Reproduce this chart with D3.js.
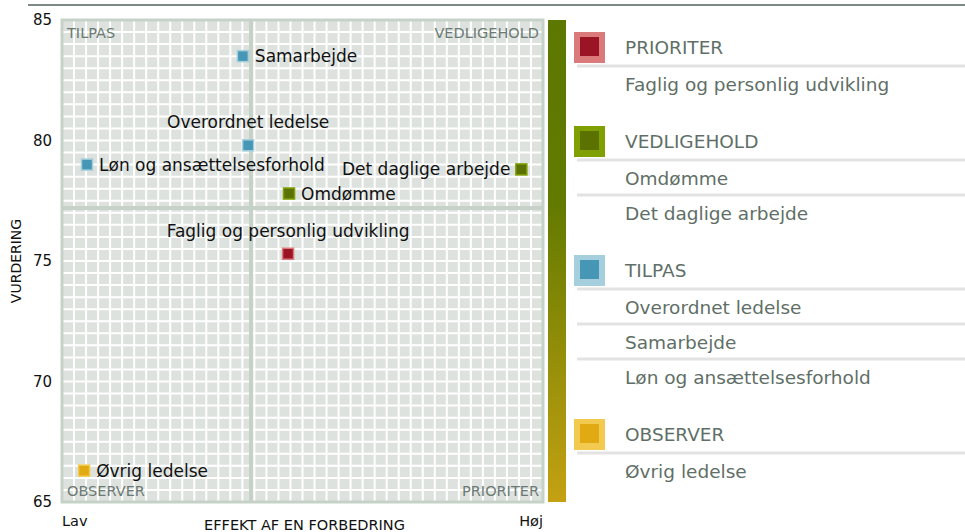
<!DOCTYPE html>
<html>
<head>
<meta charset="utf-8">
<script src="https://cdn.jsdelivr.net/npm/d3@7"></script>
<style>
  body { margin: 0; background: #fff; }
  svg { display: block; font-family: "DejaVu Sans", Verdana, sans-serif; }
</style>
</head>
<body>
<svg width="965" height="532"></svg>
<script>
// data
var items = ["Samarbejde", "Overordnet ledelse", "Løn og ansættelsesforhold", "Det daglige arbejde", "Omdømme", "Faglig og personlig udvikling", "Øvrig ledelse"];
var effekt = [37.6, 38.7, 5.2, 95.5, 47.2, 47.0, 4.6];
var vurdering = [83.5, 79.8, 79.0, 78.8, 77.8, 75.3, 66.3];
var itemGroup = ["TILPAS", "TILPAS", "TILPAS", "VEDLIGEHOLD", "VEDLIGEHOLD", "PRIORITER", "OBSERVER"];
var labelPos = ["right", "above", "right", "left", "right", "above", "right"];

var yTicks = [65, 70, 75, 80, 85];
var xMid = 39.3;
var yMid = 77.2;

var groups = ["PRIORITER", "VEDLIGEHOLD", "TILPAS", "OBSERVER"];
var groupFill = ["#9b1426", "#5c7200", "#4597b5", "#e2aa12"];
var groupEdge = ["#da7a7a", "#7fa000", "#a5cfdd", "#f3ca50"];
var legendItems = [
  ["Faglig og personlig udvikling"],
  ["Omdømme", "Det daglige arbejde"],
  ["Overordnet ledelse", "Samarbejde", "Løn og ansættelsesforhold"],
  ["Øvrig ledelse"]
];

var svg = d3.select("svg");
var plotL = 62, plotT = 20, w = 481, h = 482;

var x = d3.scaleLinear().domain([0, 100]).range([plotL, plotL + w]);
var y = d3.scaleLinear().domain([65, 85]).range([plotT + h, plotT]);

// top rule
svg.append("line")
  .attr("x1", 28).attr("x2", 965).attr("y1", 5).attr("y2", 5)
  .attr("stroke", "#7d8a84").attr("stroke-width", 2);

// plot background + grid
var plot = svg.append("g");
plot.append("rect")
  .attr("x", plotL).attr("y", plotT).attr("width", w).attr("height", h)
  .attr("fill", "#dde2df");

var gridX = d3.range(0, 100.001, 2.5);
var gridY = d3.range(65, 85.001, 0.5);
plot.selectAll(".gx").data(gridX).join("line")
  .attr("x1", d => x(d)).attr("x2", d => x(d))
  .attr("y1", plotT).attr("y2", plotT + h)
  .attr("stroke", "#fff").attr("stroke-width", 2);
plot.selectAll(".gy").data(gridY).join("line")
  .attr("y1", d => y(d)).attr("y2", d => y(d))
  .attr("x1", plotL).attr("x2", plotL + w)
  .attr("stroke", "#fff").attr("stroke-width", 2);

// quadrant dividers
plot.append("line")
  .attr("x1", x(xMid)).attr("x2", x(xMid)).attr("y1", plotT).attr("y2", plotT + h)
  .attr("stroke", "#c6d1c7").attr("stroke-width", 4);
plot.append("line")
  .attr("y1", y(yMid)).attr("y2", y(yMid)).attr("x1", plotL).attr("x2", plotL + w)
  .attr("stroke", "#c6d1c7").attr("stroke-width", 4);

plot.append("rect")
  .attr("x", plotL).attr("y", plotT).attr("width", w).attr("height", h)
  .attr("fill", "none").attr("stroke", "#c6d1c7").attr("stroke-width", 3);

// quadrant names
var quadColor = "#6c7a73";
var quad = [
  {t: "TILPAS", x: plotL + 5, y: plotT + 18, a: "start"},
  {t: "VEDLIGEHOLD", x: plotL + w - 4, y: plotT + 18, a: "end"},
  {t: "OBSERVER", x: plotL + 5, y: plotT + h - 6, a: "start"},
  {t: "PRIORITER", x: plotL + w - 4, y: plotT + h - 6, a: "end"}
];
plot.selectAll(".quad").data(quad).join("text")
  .attr("x", d => d.x).attr("y", d => d.y)
  .attr("text-anchor", d => d.a)
  .attr("font-size", 14.5).attr("fill", quadColor)
  .text(d => d.t);

// y axis labels
svg.selectAll(".ytick").data(yTicks).join("text")
  .attr("x", 52).attr("y", d => y(d) + 5)
  .attr("text-anchor", "end").attr("font-size", 15).attr("fill", "#111")
  .text(d => d);
svg.append("text")
  .attr("transform", "translate(21," + (plotT + h / 2) + ") rotate(-90)")
  .attr("text-anchor", "middle").attr("font-size", 14).attr("fill", "#111")
  .text("VURDERING");

// x axis labels
svg.append("text").attr("x", plotL).attr("y", 526).attr("font-size", 14.5).attr("fill", "#111").text("Lav");
svg.append("text").attr("x", plotL + w).attr("y", 526).attr("text-anchor", "end").attr("font-size", 14.5).attr("fill", "#111").text("Høj");
svg.append("text").attr("x", plotL + w * 0.5 + 2).attr("y", 530).attr("text-anchor", "middle").attr("font-size", 14.5).attr("fill", "#111").text("EFFEKT AF EN FORBEDRING");

// gradient bar
var grad = svg.append("defs").append("linearGradient")
  .attr("id", "bar").attr("x1", 0).attr("x2", 0).attr("y1", 0).attr("y2", 1);
grad.append("stop").attr("offset", "0%").attr("stop-color", "#5d7800");
grad.append("stop").attr("offset", "38%").attr("stop-color", "#627a00");
grad.append("stop").attr("offset", "100%").attr("stop-color", "#c4a112");
svg.append("rect")
  .attr("x", 548).attr("y", plotT).attr("width", 18).attr("height", h)
  .attr("fill", "url(#bar)");

// points
var pts = items.map((name, i) => ({
  name: name, x: effekt[i], y: vurdering[i],
  g: groups.indexOf(itemGroup[i]), pos: labelPos[i]
}));

var pg = svg.append("g").selectAll("g").data(pts).join("g")
  .attr("transform", d => "translate(" + x(d.x) + "," + y(d.y) + ")");
pg.append("rect")
  .attr("x", -5.5).attr("y", -5.5).attr("width", 11).attr("height", 11)
  .attr("fill", d => groupFill[d.g])
  .attr("stroke", d => groupEdge[d.g]).attr("stroke-width", 1.5);
pg.append("text")
  .attr("x", d => d.pos == "right" ? 12 : d.pos == "left" ? -11 : 0)
  .attr("y", d => d.pos == "above" ? -17 : 6)
  .attr("text-anchor", d => d.pos == "right" ? "start" : d.pos == "left" ? "end" : "middle")
  .attr("font-size", 17).attr("fill", "#111")
  .text(d => d.name);

// legend
var leg = svg.append("g");
var ly = 47;
groups.forEach(function(g, i) {
  leg.append("rect")
    .attr("x", 574).attr("y", ly - 15).attr("width", 31).attr("height", 31)
    .attr("fill", groupEdge[i]);
  leg.append("rect")
    .attr("x", 580).attr("y", ly - 10).attr("width", 19).attr("height", 19)
    .attr("fill", groupFill[i]);
  leg.append("text")
    .attr("x", 625).attr("y", ly + 7).attr("font-size", 18.5).attr("fill", "#5f6f67")
    .text(g);
  legendItems[i].forEach(function(name, j) {
    leg.append("line")
      .attr("x1", 577).attr("x2", 965)
      .attr("y1", ly + 19 + j * 35).attr("y2", ly + 19 + j * 35)
      .attr("stroke", "#e3e3e3").attr("stroke-width", 3);
    leg.append("text")
      .attr("x", 625).attr("y", ly + 44 + j * 35).attr("font-size", 18.5).attr("fill", "#5f6f67")
      .text(name);
  });
  ly += 37 + legendItems[i].length * 35 + 22;
});
</script>
</body>
</html>
